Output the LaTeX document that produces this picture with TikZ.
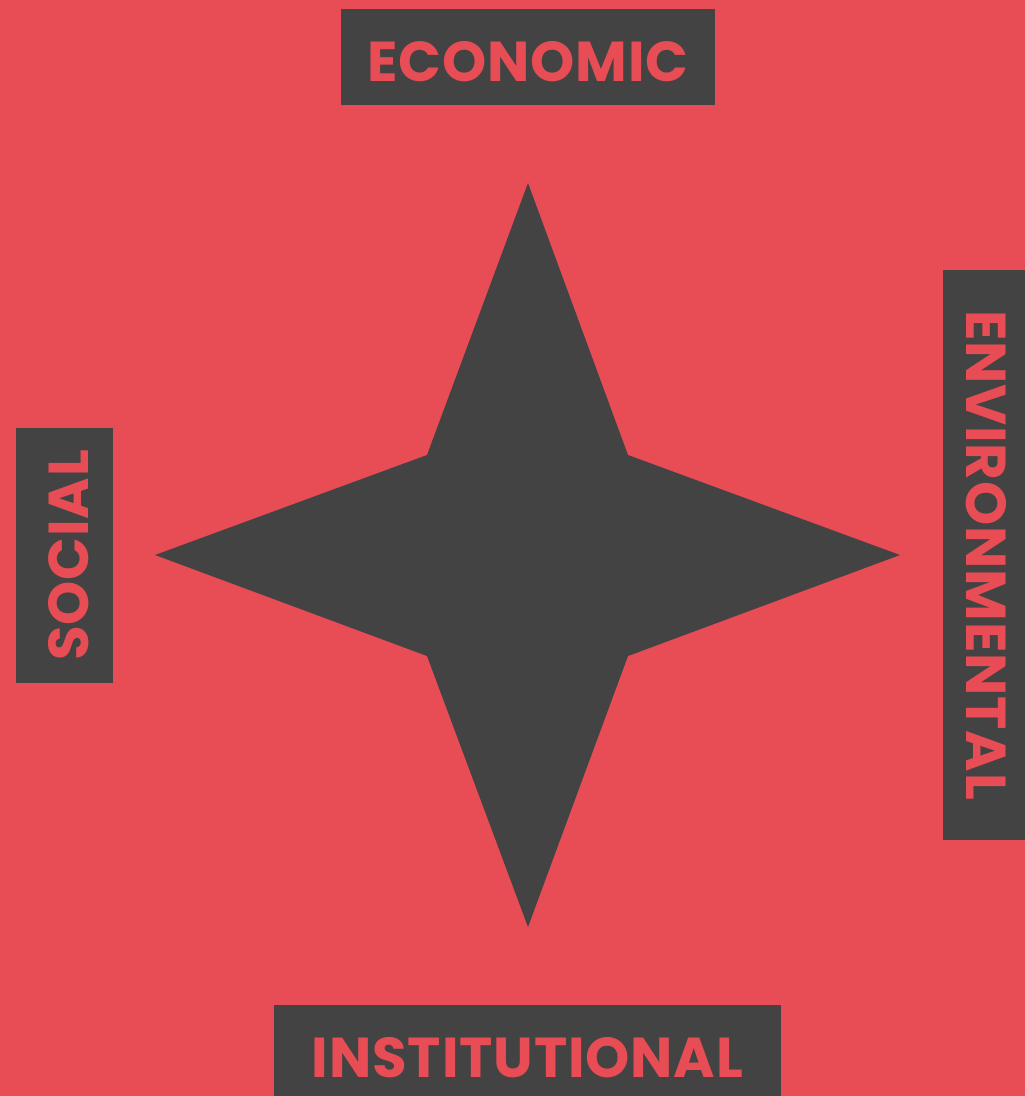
\documentclass[tikz,border=0pt]{standalone}
\usepackage{fontspec}
\setmainfont{Poppins}[BoldFont={* Bold},LetterSpace=1.5]
\usetikzlibrary{positioning}
\definecolor{PillarRed}{RGB}{232, 77, 85}
\definecolor{PillarGray}{RGB}{67, 67, 67}

\begin{document}
\begin{tikzpicture}[x=0.01cm,y=-0.01cm, pillar/.style={fill=PillarGray,text=PillarRed,font=\fontsize{16}{16}\selectfont\bfseries,inner sep=0pt,text height=13.8pt,text depth=0pt,minimum height=0.96cm}]

% background sets the page size
\fill[PillarRed] (0,0) rectangle (1025,1096);
\useasboundingbox (0,0) rectangle (1025,1096);

% the four pointed star
\coordinate (mid) at (528,555);
\fill[PillarGray] (528,183) -- (628,455) -- (900,555) -- (628,656) -- (528,927) -- (427,656) -- (155,555) -- (427,455) -- cycle;

% the pillars round it
\node[pillar,minimum width=3.74cm] (econ) at (528,57) {ECONOMIC};
\node[pillar,minimum width=5.07cm] (inst) at (527.5,1053) {INSTITUTIONAL};
\node[pillar,minimum width=2.55cm,rotate=90] (soc) at (64.5,555.5) {SOCIAL};
\node[pillar,minimum width=5.70cm,rotate=-90] (env) at (991,555) {ENVIRONMENTAL};

\end{tikzpicture}
\end{document}
